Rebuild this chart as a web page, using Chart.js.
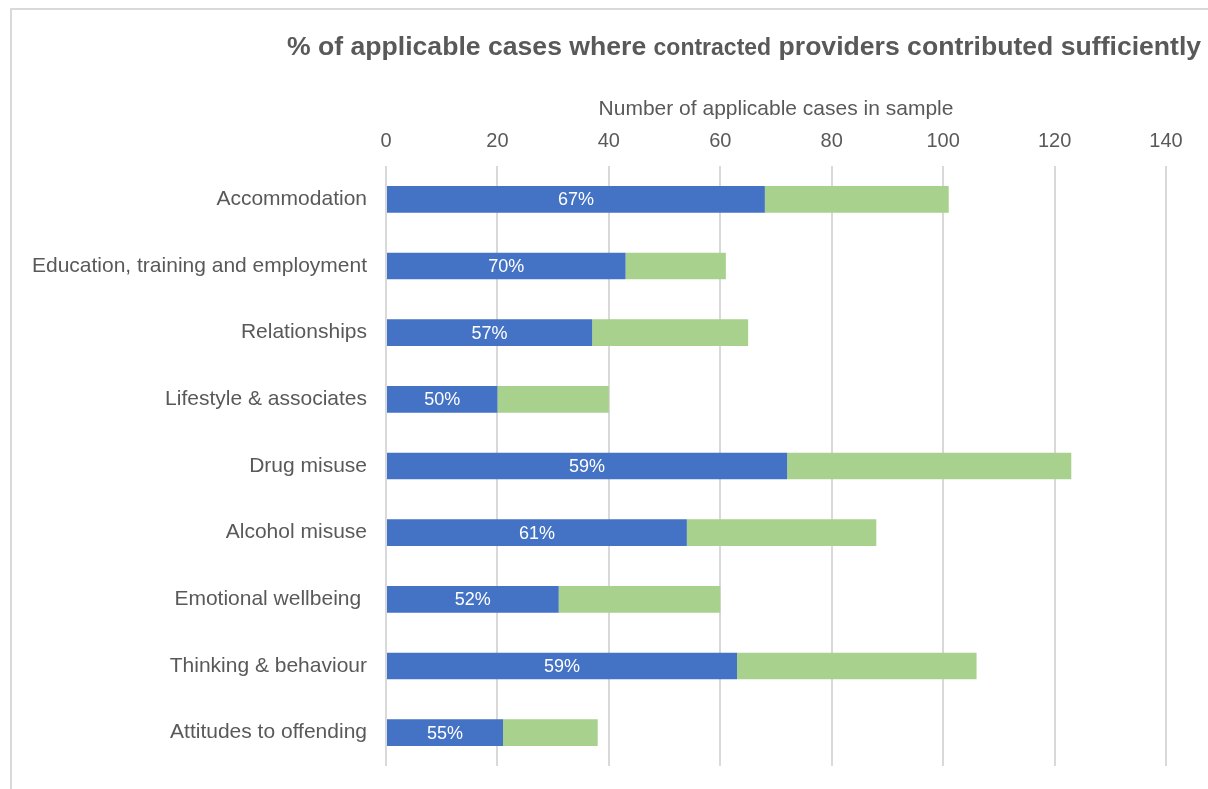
<!DOCTYPE html>
<html>
<head>
<meta charset="utf-8">
<script src="https://cdn.jsdelivr.net/npm/chart.js@4.4.0/dist/chart.umd.min.js"></script>
<style>
  html, body { margin: 0; padding: 0; width: 1208px; height: 789px; overflow: hidden; background: #fff; }
  #frame { position: absolute; left: 10px; top: 8px; width: 1400px; height: 1000px; border: 2px solid #d9d9d9; box-sizing: border-box; }
  #wrap { position: absolute; left: 0; top: 0; width: 1208px; height: 789px; }
</style>
</head>
<body>
<div id="frame"></div>
<div id="wrap"><canvas id="c" width="1208" height="789"></canvas></div>
<script>
const categories = [
  "Accommodation",
  "Education, training and employment",
  "Relationships",
  "Lifestyle & associates",
  "Drug misuse",
  "Alcohol misuse",
  "Emotional wellbeing ",
  "Thinking & behaviour",
  "Attitudes to offending"
];
const sufficientCases = [68, 43, 37, 20, 72, 54, 31, 63, 21];
const otherCases      = [33, 18, 28, 20, 51, 34, 29, 43, 17];
const percentLabels   = ["67%", "70%", "57%", "50%", "59%", "61%", "52%", "59%", "55%"];
const xTicks = [0, 20, 40, 60, 80, 100, 120, 140];
const titleParts = [
  { text: "% of applicable cases where ", size: 26.6 },
  { text: "contracted", size: 23 },
  { text: " providers contributed sufficiently", size: 26.6 }
];
const axisTitle = "Number of applicable cases in sample";

const FONT = "'Liberation Sans', Arial, sans-serif";
const TEXT = "#595959";

const titlePlugin = {
  id: 'mixedTitle',
  afterDraw(chart) {
    const ctx = chart.ctx;
    ctx.save();
    ctx.fillStyle = TEXT;
    ctx.textBaseline = 'alphabetic';
    ctx.textAlign = 'left';
    let x = 287;
    const y = 55;
    titleParts.forEach(p => {
      ctx.font = "bold " + p.size + "px " + FONT;
      ctx.fillText(p.text, x, y);
      x += ctx.measureText(p.text).width;
    });
    ctx.restore();
  }
};

const valueLabelPlugin = {
  id: 'valueLabels',
  afterDatasetsDraw(chart) {
    const ctx = chart.ctx;
    const meta = chart.getDatasetMeta(0);
    ctx.save();
    ctx.fillStyle = '#ffffff';
    ctx.font = "18px " + FONT;
    ctx.textAlign = 'center';
    ctx.textBaseline = 'middle';
    meta.data.forEach((el, i) => {
      const cx = (el.x + el.base) / 2;
      ctx.fillText(percentLabels[i], cx, el.y + 1);
    });
    ctx.restore();
  }
};

new Chart(document.getElementById('c'), {
  type: 'bar',
  data: {
    labels: categories,
    datasets: [
      { label: 'Sufficient', data: sufficientCases, backgroundColor: '#4472C4', borderWidth: 0 },
      { label: 'Not sufficient', data: otherCases, backgroundColor: '#A9D18E', borderWidth: 0 }
    ]
  },
  options: {
    indexAxis: 'y',
    responsive: false,
    animation: false,
    layout: { padding: { left: 0, right: 42, top: 80, bottom: 23 } },
    plugins: { legend: { display: false }, tooltip: { enabled: false }, title: { display: false } },
    datasets: { bar: { barPercentage: 0.4, categoryPercentage: 1.0 } },
    scales: {
      x: {
        position: 'top',
        stacked: true,
        min: 0, max: 140,
        afterBuildTicks(scale) { scale.ticks = xTicks.map(v => ({ value: v })); },
        afterFit(scale) { scale.height = 86; scale.paddingLeft = 0; scale.paddingRight = 0; },
        grid: { color: '#d9d9d9', lineWidth: 2, drawTicks: false },
        border: { display: false },
        ticks: { color: TEXT, font: { family: FONT, size: 20 }, padding: 13 },
        title: { display: true, text: axisTitle, color: TEXT, font: { family: FONT, size: 21 }, padding: { top: 17, bottom: 2 } }
      },
      y: {
        stacked: true,
        afterFit(scale) { scale.width = 386; scale.paddingTop = 0; scale.paddingBottom = 0; },
        grid: { display: false, drawTicks: false },
        border: { display: false },
        ticks: { color: TEXT, font: { family: FONT, size: 21 }, padding: 19 }
      }
    }
  },
  plugins: [titlePlugin, valueLabelPlugin]
});
</script>
</body>
</html>
